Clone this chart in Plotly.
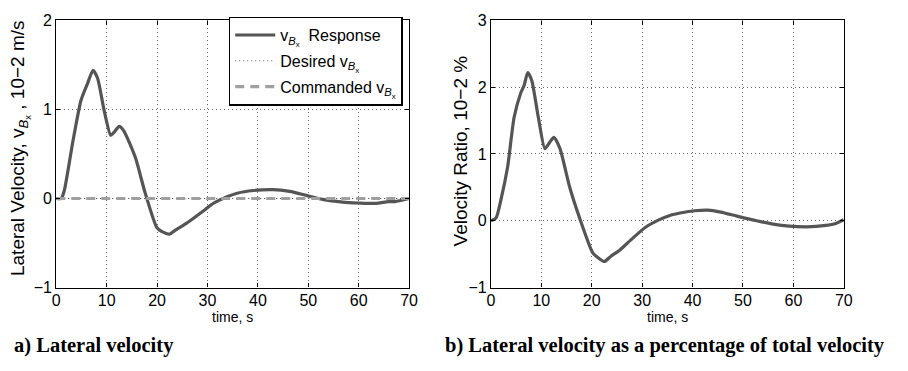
import plotly.graph_objects as go

# ---- data ----
t_a = [0, 1, 1.6, 3.3, 4.9, 6.2, 7.3, 8.2, 9.5, 10.8, 11.4, 12.5, 13.4, 15.7, 17.6, 19.9, 20.9,
       22.5, 23.5, 25.8, 28.7, 31.3, 33.9, 35.9, 39.1, 43, 46.3, 49.6, 52.8, 56.8, 60, 63.3,
       65.9, 67.2, 70]
v_a = [0, 0, 0.09, 0.64, 1.1, 1.29, 1.44, 1.35, 0.99, 0.71, 0.74, 0.81, 0.76, 0.46, 0.07, -0.32,
       -0.37, -0.40, -0.36, -0.28, -0.16, -0.05, 0.02, 0.06, 0.09, 0.10, 0.08, 0.035, -0.01,
       -0.04, -0.05, -0.055, -0.035, -0.035, 0]
t_ref = [0, 70]
desired = [0, 0]
commanded = [0, 0]

t_b = [0, 1, 2, 3.3, 4.6, 5.9, 6.6, 7.3, 8.1, 9.4, 10.7, 11.7, 12.5, 13.7, 15.6, 17.6, 20.2,
       21.2, 22.5, 23.8, 25.4, 27.7, 30.6, 33.2, 35.5, 37.8, 40.4, 43, 45.6, 48.8, 52.7, 56,
       59.2, 62.5, 64.5, 66.4, 68.4, 70]
v_b = [0, 0.04, 0.32, 0.80, 1.55, 1.91, 2.03, 2.22, 2.10, 1.55, 1.08, 1.18, 1.25, 1.08, 0.51,
       0.04, -0.48, -0.55, -0.61, -0.53, -0.45, -0.29, -0.10, 0.01, 0.08, 0.12, 0.15, 0.16,
       0.13, 0.07, 0.0, -0.05, -0.08, -0.09, -0.085, -0.07, -0.04, 0.015]

x_ticks = [0, 10, 20, 30, 40, 50, 60, 70]
ya_ticks = [-1, 0, 1, 2]
yb_ticks = [-1, 0, 1, 2, 3]

VB = "v<sub><i>B</i><sub>x</sub></sub>"

fig = go.Figure()
fig.add_trace(go.Scatter(x=t_a, y=v_a, mode="lines", name=VB + "  Response", legendgroup="g1",
                         line=dict(color="#555555", width=3.2, shape="spline", smoothing=0.6),
                         xaxis="x", yaxis="y"))
fig.add_trace(go.Scatter(x=t_ref, y=desired, mode="lines", name="Desired " + VB, legendgroup="g2",
                         line=dict(color="#555555", width=1, dash="1px,3px"),
                         xaxis="x", yaxis="y"))
fig.add_trace(go.Scatter(x=t_ref, y=commanded, mode="lines", name="Commanded " + VB,
                         legendgroup="g3",
                         line=dict(color="#a0a0a0", width=3.2, dash="9px,6px"),
                         xaxis="x", yaxis="y"))
fig.add_trace(go.Scatter(x=t_b, y=v_b, mode="lines", showlegend=False,
                         line=dict(color="#555555", width=3.2, shape="spline", smoothing=0.6),
                         xaxis="x2", yaxis="y2"))

W, H = 908, 371
ytop, ybot = 1 - 13 / H, 1 - 293 / H

axcommon = dict(showline=True, linecolor="black", linewidth=1.2, mirror="ticks",
                ticks="inside", ticklen=4, tickcolor="black",
                showgrid=True, gridcolor="#666666", griddash="1px,3px", gridwidth=1,
                zeroline=False,
                tickfont=dict(family="Liberation Sans, Arial", size=16, color="black"))

fig.update_layout(
    width=W, height=H, margin=dict(l=0, r=0, t=0, b=0),
    paper_bgcolor="white", plot_bgcolor="white",
    font=dict(family="Liberation Sans, Arial", color="black"),
    xaxis=dict(domain=[53 / W, 411 / W], range=[0, 70], tickvals=x_ticks, anchor="y",
               ticklabelstandoff=-2, **axcommon),
    yaxis=dict(domain=[ybot, ytop], range=[-1, 2], tickvals=ya_ticks, anchor="x",
               ticktext=["\u22121", "0", "1", "2"], **axcommon),
    xaxis2=dict(domain=[494 / W, 852 / W], range=[0, 70], tickvals=x_ticks, anchor="y2",
                ticklabelstandoff=-2, **axcommon),
    yaxis2=dict(domain=[ybot, ytop], range=[-1, 3], tickvals=yb_ticks, anchor="x2",
                ticktext=["\u22121", "0", "1", "2", "3"], **axcommon),
    legend=dict(x=228 / W, y=1 - 9 / H, xanchor="left", yanchor="top",
                bgcolor="white", bordercolor="black", borderwidth=1.5,
                font=dict(family="Liberation Sans, Arial", size=16, color="black"),
                itemwidth=40, tracegroupgap=2, entrywidth=130, entrywidthmode="pixels"),
    showlegend=True,
)

ann = [
    dict(text="time, s", x=232 / W, y=1 - 324 / H, font=dict(size=14)),
    dict(text="time, s", x=673 / W, y=1 - 324 / H, font=dict(size=14)),
    dict(text="Lateral Velocity, " + VB + " , 10\u22122 m/s", x=17 / W, y=1 - 147 / H,
         textangle=-90, font=dict(size=19)),
    dict(text="Velocity Ratio, 10\u22122 %", x=463 / W, y=1 - 150 / H,
         textangle=-90, font=dict(size=19)),
    dict(text="<b>a) Lateral velocity</b>", x=8 / W, y=1 - 354 / H, xanchor="left",
         font=dict(family="Liberation Serif, Times New Roman", size=20.5)),
    dict(text="<b>b) Lateral velocity as a percentage of total velocity</b>", x=445 / W,
         y=1 - 354 / H, xanchor="left",
         font=dict(family="Liberation Serif, Times New Roman", size=20.5)),
]
for a in ann:
    a.setdefault("xanchor", "center")
    a.setdefault("yanchor", "middle")
    a.update(xref="paper", yref="paper", showarrow=False)
fig.update_layout(annotations=ann)

fig.write_html("out.html")
